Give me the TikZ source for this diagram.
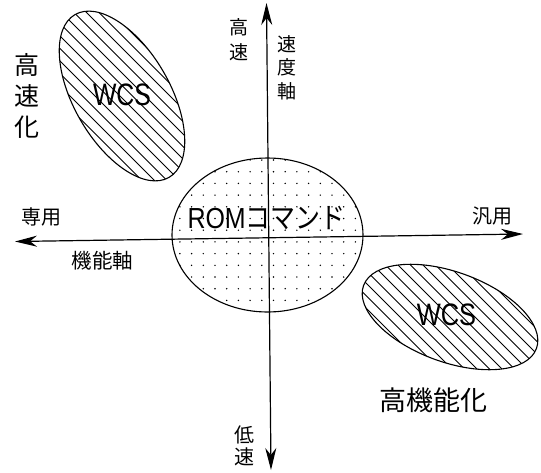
\documentclass[tikz,border=0pt]{standalone}
\usepackage{fontspec}
\newfontfamily\jp{Noto Sans CJK JP}
\newfontfamily\lat{Liberation Sans}
\usetikzlibrary{arrows.meta}
\begin{document}
\begin{tikzpicture}[x=1pt,y=1pt,
  tip/.tip={Stealth[length=22pt,width=11pt,inset=7pt]},
  axis/.style={line width=1.2pt, tip-tip},
  blob/.style={line width=1.1pt},
  hatch/.style={line width=0.85pt},
  lbl/.style={inner sep=0pt, align=center},
]
\useasboundingbox (0,0) rectangle (541,-472);

% central ellipse with dots
\begin{scope}
  \clip (267.5,-235) ellipse [x radius=95.5, y radius=77];
  \foreach \i in {0,...,17}{
    \foreach \j in {0,...,14}{
      \fill ({179.9+11.7*\i},{-160-11.7*\j}) circle (0.8);
    }
  }
\end{scope}
\draw[blob] (267.5,-235) ellipse [x radius=95.5, y radius=77];

% upper-left WCS ellipse
\begin{scope}
  \clip[rotate around={-60:(122,-96)}] (122,-96) ellipse [x radius=94, y radius=48];
  \foreach \c in {-130,-117.5,...,380}{
    \draw[hatch] ({\c-150},{-96+150}) -- ({\c+150},{-96-150});
  }
\end{scope}
\draw[blob, rotate around={-60:(122,-96)}] (122,-96) ellipse [x radius=94, y radius=48];

% lower-right WCS ellipse
\begin{scope}
  \clip[rotate around={-20:(450,-317)}] (450,-317) ellipse [x radius=92, y radius=45];
  \foreach \c in {200,212.5,...,700}{
    \draw[hatch] ({\c-150},{-317+150}) -- ({\c+150},{-317-150});
  }
\end{scope}
\draw[blob, rotate around={-20:(450,-317)}] (450,-317) ellipse [x radius=92, y radius=45];

% axes
\coordinate (vtop) at (266.5,-3);
\coordinate (vbot) at (271,-470);
\coordinate (hl) at (15,-241.5);
\coordinate (hr) at (523,-234);
\draw[axis] (vbot) -- (vtop);
\draw[axis] (hl) -- (hr);

% texts
\node[lbl, anchor=base, xscale=0.8, font=\lat\fontsize{31}{31}\selectfont] (wcs1) at (122,-105) {WCS};
\node[lbl, anchor=base, xscale=0.82, font=\lat\fontsize{31}{31}\selectfont] (wcs2) at (446.5,-325) {WCS};
\node[lbl, anchor=base, xscale=0.86, font=\fontsize{29}{29}\selectfont] (rom) at (266.5,-228) {{\lat ROM}{\jp コマンド}};

\node[lbl, font=\jp\fontsize{25}{31}\selectfont] (hs) at (27,-96) {高\\速\\化};
\node[lbl, font=\jp\fontsize{19}{25}\selectfont] (fast) at (239,-39.5) {高\\速};
\node[lbl, font=\jp\fontsize{19}{23.5}\selectfont] (vaxis) at (287,-67.5) {速\\度\\軸};
\node[lbl, font=\jp\fontsize{20}{22}\selectfont] (slow) at (244,-446) {低\\速};
\node[lbl, font=\jp\fontsize{20}{20}\selectfont] (sen) at (41,-216.5) {専用};
\node[lbl, font=\jp\fontsize{20.5}{20.5}\selectfont] (haxis) at (102.5,-261) {機能軸};
\node[lbl, font=\jp\fontsize{20}{20}\selectfont] (han) at (492,-216) {汎用};
\node[lbl, font=\jp\fontsize{27}{27}\selectfont] (hk) at (433,-400) {高機能化};
\end{tikzpicture}
\end{document}
